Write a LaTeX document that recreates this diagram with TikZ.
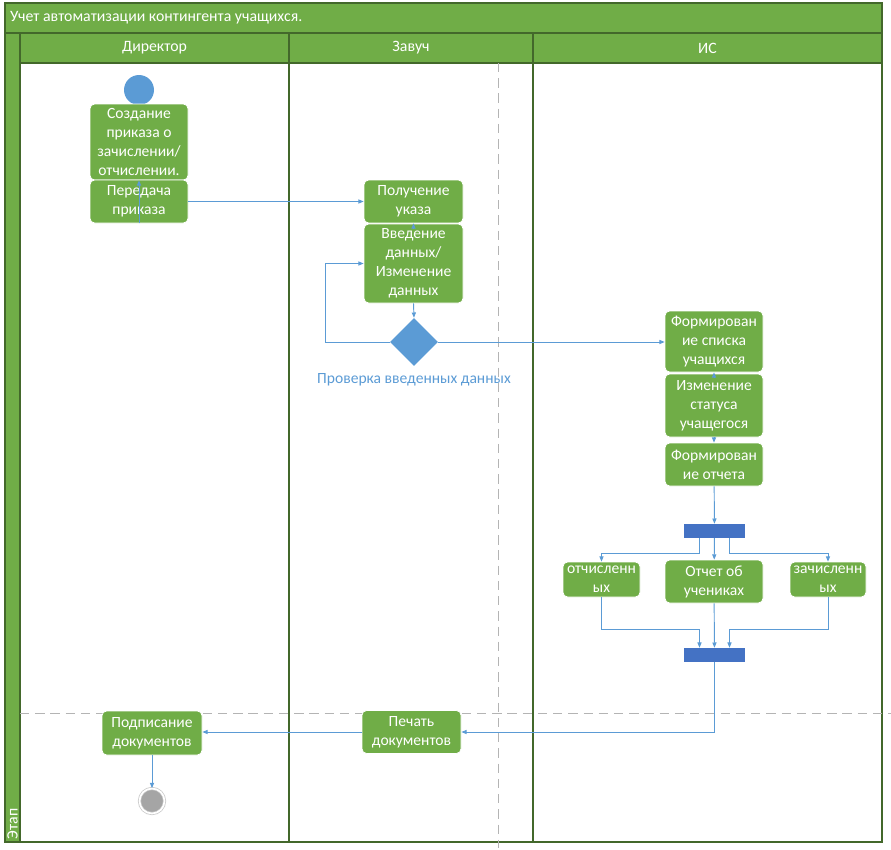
\documentclass[tikz,border=0pt]{standalone}
\usepackage{fontspec}
\setmainfont{Carlito}
\usetikzlibrary{arrows.meta,shapes.geometric}

\definecolor{lanegreen}{HTML}{70AD47}
\definecolor{laneborder}{HTML}{43682B}
\definecolor{flowblue}{HTML}{5B9BD5}
\definecolor{barblue}{HTML}{4472C4}
\definecolor{gridgray}{HTML}{B4B4B4}
\definecolor{endgray}{HTML}{A5A5A5}

\tikzset{
  act/.style={rectangle, rounded corners=4pt, fill=lanegreen, draw=white, line width=0.6pt,
    text=white, align=center, inner sep=0pt, font=\fontsize{13.3}{16.3}\selectfont},
  sz/.style 2 args={minimum width=#1*0.3mm, minimum height=#2*0.3mm},
  flow/.style={draw=flowblue, line width=0.8pt, -{Triangle[length=4.5pt,width=3.5pt]}},
  bar/.style={rectangle, fill=barblue, inner sep=0pt, sz={61}{14}},
  head/.style={text=white, font=\fontsize{13.5}{15}\selectfont},
}

\begin{document}
\begin{tikzpicture}[x=0.3mm,y=-0.3mm]
\useasboundingbox (0,0) rectangle (891,850);
% swimlanes
\draw[laneborder, fill=lanegreen, line width=1pt] (5,3) rectangle (882,33);
\draw[laneborder, fill=lanegreen, line width=1pt] (5,33) rectangle (20,842);
\draw[laneborder, fill=lanegreen, line width=1pt] (20,33) rectangle (882,63);
\draw[laneborder, line width=1pt] (20,63) rectangle (882,842);
\draw[laneborder, line width=1pt] (289,33) -- (289,842);
\draw[laneborder, line width=1pt] (533,33) -- (533,842);
\draw[gridgray, line width=0.8pt, dash pattern=on 8pt off 5pt] (498,63) -- (498,848);
\draw[gridgray, line width=0.8pt, dash pattern=on 8pt off 5pt] (20,713) -- (891,713);

\node[head, anchor=west] (title) at (6,18) {Учет автоматизации контингента учащихся.};
\node[head] (dir) at (154.5,48) {Директор};
\node[head] (zavuch) at (411,48) {Завуч};
\node[head] (is) at (707.5,48) {ИС};
\node[head, rotate=90] (stage) at (12.5,824) {Этап};

% actions
\node[circle, fill=flowblue, inner sep=0pt, sz={30}{30}] (start) at (139,90) {};
\node[act, sz={98}{76}] (create) at (139,142) {\rule{0pt}{5pt}Создание\\приказа о\\зачислении/\\отчислении.};
\node[act, sz={98}{43}] (transfer) at (139,201.5) {Передача\\приказа};
\node[act, sz={99}{43}] (receive) at (413.5,201.5) {Получение\\указа};
\node[act, sz={99}{79}] (enter) at (413.5,263.5) {Введение\\данных/\\Изменение\\данных};
\node[diamond, fill=flowblue, inner sep=0pt, sz={48}{48}] (check) at (414,342) {};
\node[text=flowblue, font=\fontsize{13.3}{15}\selectfont] (checklbl) at (414,380) {Проверка введенных данных};
\node[act, sz={98}{61}] (list) at (714,341.5) {Формирован\\ие списка\\учащихся};
\node[act, sz={98}{63}] (status) at (714,405.5) {Изменение\\статуса\\учащегося};
\node[act, sz={98}{43}] (report) at (714,464.5) {Формирован\\ие отчета};
\node[bar] (fork) at (714.5,531) {};
\node[act, sz={77}{35}] (expelled) at (601.5,579.5) {отчисленн\\ых};
\node[act, sz={98}{43}] (students) at (714,581.5) {Отчет об\\учениках};
\node[act, sz={76}{35}] (enrolled) at (828,579.5) {зачисленн\\ых};
\node[bar] (join) at (714.5,655) {};
\node[act, sz={99}{43}] (print) at (411.5,732) {Печать\\документов};
\node[act, sz={100}{44}] (sign) at (152,733) {Подписание\\документов};
\node[circle, fill=endgray, draw=gray!45, double=white, double distance=1.5pt, line width=0.6pt,
  inner sep=0pt, sz={25}{25}] (finish) at (152,801) {};

% flows
\draw[flow] (transfer.south) -- (create.south);
\draw[flow] (transfer) -- (receive);
\draw[flow] ([yshift=-4pt]enter.north) -- (receive.south);
\draw[flow] (enter.south) -- (check.north);
\draw[flow] (check.west) -- ++(-64,0) |- (enter.west);
\draw[flow] (check.east) -- (check.east -| list.west);
\draw[flow] ([yshift=-4pt]status.north) -- (list.south);
\draw[flow] (status.south) -- (report.north);
\draw[flow] (report) -- (fork);
\draw[flow] ([xshift=-4.5mm]fork.south) -- ++(0,15) -| (expelled.north);
\draw[flow] (fork) -- (students);
\draw[flow] ([xshift=4.5mm]fork.south) -- ++(0,15) -| (enrolled.north);
\draw[flow] (expelled.south) -- ++(0,32) -| ([xshift=-4.5mm]join.north);
\draw[flow] (students) -- (join);
\draw[flow] (enrolled.south) -- ++(0,32) -| ([xshift=4.5mm]join.north);
\draw[flow] (join.south) |- (print.east);
\draw[flow] (print.west) -- (print.west -| sign.east);
\draw[flow] (sign) -- (finish);
\end{tikzpicture}
\end{document}
